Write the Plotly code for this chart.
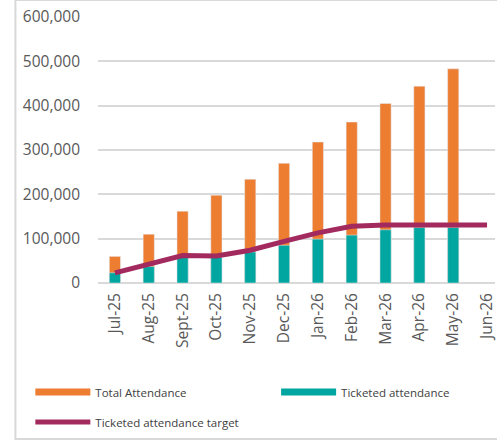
import plotly.graph_objects as go

months = ["Jul-25", "Aug-25", "Sept-25", "Oct-25", "Nov-25", "Dec-25",
          "Jan-26", "Feb-26", "Mar-26", "Apr-26", "May-26", "Jun-26"]
total_attendance = [60000, 110000, 162000, 198000, 234000, 270000,
                    318000, 363000, 405000, 444000, 483000, None]
ticketed_attendance = [23000, 37000, 58000, 58000, 70000, 85000,
                       99000, 108000, 120000, 125000, 125000, None]
ticketed_target = [23000, 42000, 62000, 61000, 74000, 94000,
                   113000, 128000, 131000, 131000, 131000, 131000]

ORANGE = "#ED7D31"
TEAL = "#00A69F"
MAROON = "#A32A5E"

W, H = 497, 441
ml, mr, mt, mb = 98, 0, 17, 158
pw = W - ml - mr
ph = H - mt - mb

fig = go.Figure()
fig.add_trace(go.Bar(x=months, y=total_attendance, marker_color=ORANGE,
                     width=0.33, showlegend=False, name="Total Attendance"))
fig.add_trace(go.Bar(x=months, y=ticketed_attendance, marker_color=TEAL,
                     width=0.33, showlegend=False, name="Ticketed attendance"))
fig.add_trace(go.Scatter(x=months, y=ticketed_target, mode="lines",
                         line=dict(color=MAROON, width=5), showlegend=False,
                         name="Ticketed attendance target"))

# legend entries
fig.add_trace(go.Scatter(x=[None], y=[None], mode="lines", name="Total Attendance",
                         line=dict(color=ORANGE, width=7), legend="legend"))
fig.add_trace(go.Scatter(x=[None], y=[None], mode="lines", name="Ticketed attendance",
                         line=dict(color=TEAL, width=7), legend="legend2"))
fig.add_trace(go.Scatter(x=[None], y=[None], mode="lines", name="Ticketed attendance target",
                         line=dict(color=MAROON, width=5), legend="legend3"))

spacing = 34.0
xr_right = -0.5 + pw / spacing

legend_font = dict(family="Open Sans, sans-serif", size=11.5, color="#404040")


def leg(xpx, ypx):
    return dict(orientation="h", x=(xpx - ml) / pw, xanchor="left",
                y=-(ypx - 283) / ph, yanchor="middle", itemwidth=55,
                font=legend_font, bgcolor="rgba(0,0,0,0)")


fig.update_layout(
    width=W, height=H,
    margin=dict(l=ml, r=mr, t=mt, b=mb, pad=0),
    paper_bgcolor="white", plot_bgcolor="white",
    barmode="overlay",
    font=dict(family="Open Sans, sans-serif", color="#595959"),
    xaxis=dict(range=[-0.5, xr_right], tickangle=-90, showgrid=False,
               showline=False, ticks="", tickfont=dict(size=15.5, color="#595959"),
               ticklabelstandoff=6, fixedrange=True),
    yaxis=dict(range=[0, 600000], tickvals=[0, 100000, 200000, 300000, 400000, 500000, 600000],
               ticktext=["0", "100,000", "200,000", "300,000", "400,000", "500,000", "600,000"],
               showgrid=True, gridcolor="#D9D9D9", gridwidth=1.5, zeroline=True,
               zerolinecolor="#D9D9D9", zerolinewidth=1.5, ticks="",
               tickfont=dict(size=15.5, color="#595959"), ticklabelstandoff=17),
    legend=leg(30, 392),
    legend2=leg(277, 392),
    legend3=leg(30, 422),
    shapes=[dict(type="rect", xref="paper", yref="paper",
                 x0=(15 - ml) / pw, x1=(W + 20 - ml) / pw,
                 y0=-(439 - 283) / ph, y1=(283 - 0) / ph,
                 line=dict(color="#D9D9D9", width=2), layer="below")],
)

fig.write_html("out.html")
